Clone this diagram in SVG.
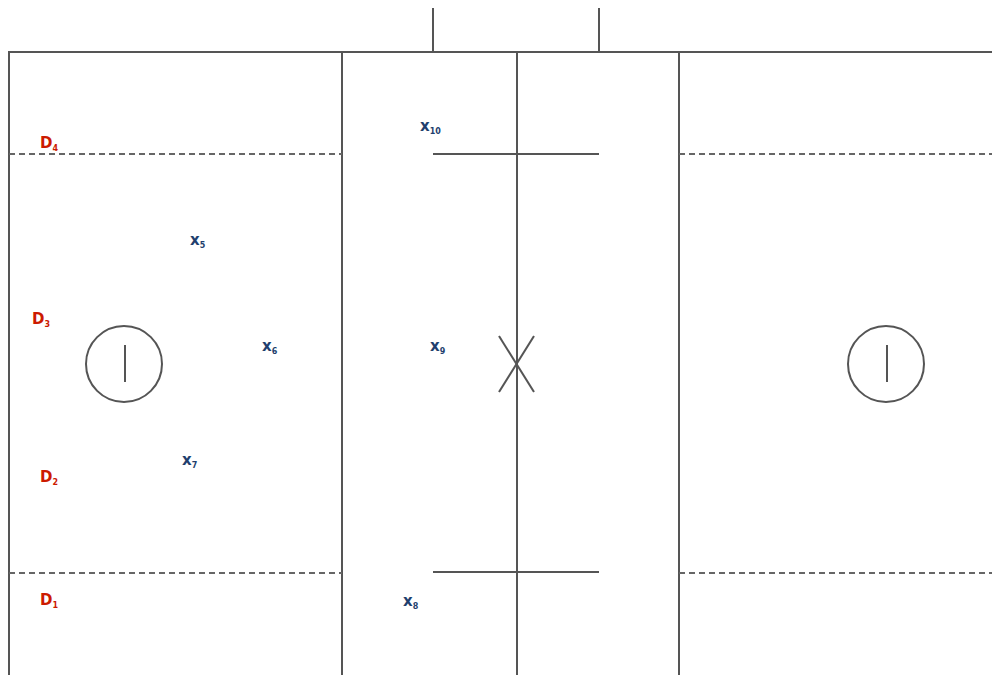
<svg xmlns="http://www.w3.org/2000/svg" width="992" height="675" viewBox="0 0 992 675">
<style>
.ln{stroke:#555;stroke-width:2;fill:none}
.dash{stroke:#666;stroke-width:2;stroke-dasharray:6,4;fill:none}
.d{fill:#cc1a00;font-family:"DejaVu Sans",Verdana,sans-serif;font-weight:bold;font-size:15px}
.x{fill:#1f3f6e;font-family:"DejaVu Sans",Verdana,sans-serif;font-weight:bold;font-size:15px}
.sub{font-size:8px}
</style>
<rect width="992" height="675" fill="#fff"/>
<g id="field">
<path class="ln" d="M9,675 V52 H992"/>
<line class="ln" x1="342" y1="52" x2="342" y2="675"/>
<line class="ln" x1="517" y1="52" x2="517" y2="675"/>
<line class="ln" x1="679" y1="52" x2="679" y2="675"/>
<line class="ln" x1="433" y1="8" x2="433" y2="52"/>
<line class="ln" x1="599" y1="8" x2="599" y2="52"/>
<line class="ln" x1="433" y1="154" x2="599" y2="154"/>
<line class="ln" x1="433" y1="572" x2="599" y2="572"/>
<line class="dash" x1="9" y1="154" x2="342" y2="154"/>
<line class="dash" x1="679" y1="154" x2="992" y2="154"/>
<line class="dash" x1="9" y1="573" x2="342" y2="573"/>
<line class="dash" x1="679" y1="573" x2="992" y2="573"/>
<line class="ln" x1="499" y1="336" x2="534" y2="392"/>
<line class="ln" x1="534" y1="336" x2="499" y2="392"/>
</g>
<g id="goal-left">
<circle class="ln" cx="124" cy="364" r="38"/>
<line class="ln" x1="125" y1="345" x2="125" y2="382"/>
</g>
<g id="goal-right">
<circle class="ln" cx="886" cy="364" r="38"/>
<line class="ln" x1="887" y1="345" x2="887" y2="382"/>
</g>
<g id="labels">
<text class="d" x="40" y="148">D<tspan class="sub" dy="3">4</tspan></text>
<text class="d" x="32" y="324">D<tspan class="sub" dy="3">3</tspan></text>
<text class="d" x="40" y="482">D<tspan class="sub" dy="3">2</tspan></text>
<text class="d" x="40" y="605">D<tspan class="sub" dy="3">1</tspan></text>
<text class="x" x="420" y="131">x<tspan class="sub" dy="3">10</tspan></text>
<text class="x" x="190" y="245">x<tspan class="sub" dy="3">5</tspan></text>
<text class="x" x="262" y="351">x<tspan class="sub" dy="3">6</tspan></text>
<text class="x" x="430" y="351">x<tspan class="sub" dy="3">9</tspan></text>
<text class="x" x="182" y="465">x<tspan class="sub" dy="3">7</tspan></text>
<text class="x" x="403" y="606">x<tspan class="sub" dy="3">8</tspan></text>
</g>
</svg>
